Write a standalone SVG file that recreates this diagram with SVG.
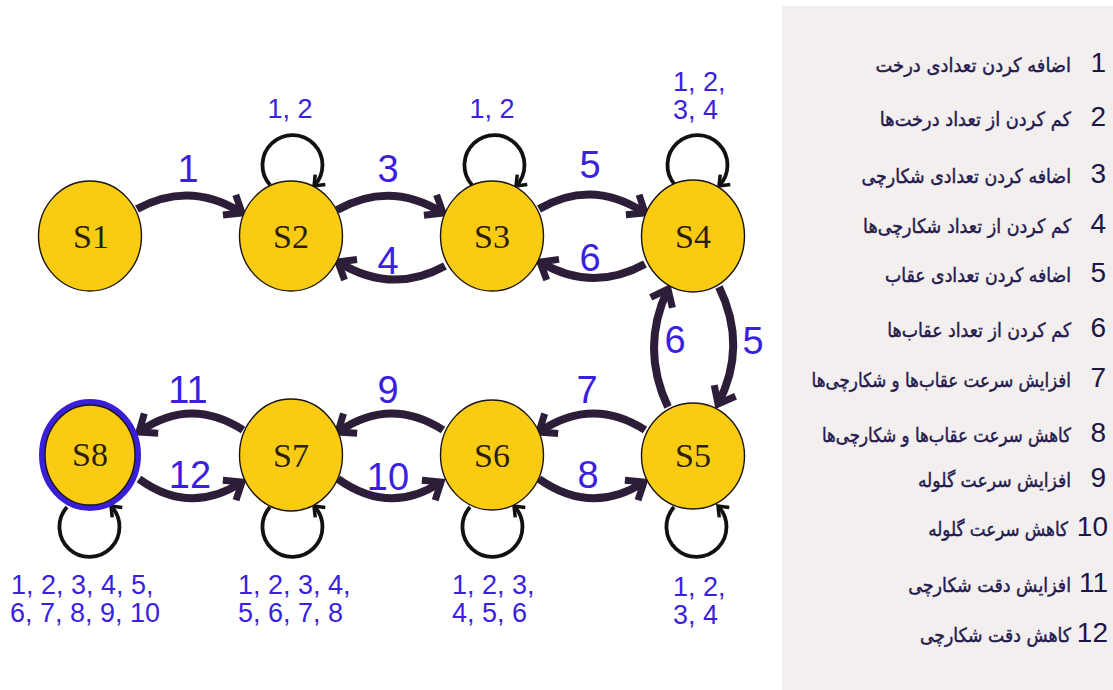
<svg xmlns="http://www.w3.org/2000/svg" width="1113" height="690" viewBox="0 0 1113 690">
<style>
.node{fill:#F9CB12;stroke:#1a1410;stroke-width:1.4}
.nl{font-family:'Liberation Serif',serif;font-size:34px;fill:#2a1f0f;text-anchor:middle}
.edge{fill:none;stroke:#2c1e38;stroke-width:8;marker-end:url(#ah)}
.loop{fill:none;stroke:#111;stroke-width:3.8;marker-end:url(#lh)}
.el{font-family:'Liberation Sans',Arial,sans-serif;font-size:38px;fill:#3b1fe0;text-anchor:middle}
.ll{font-family:'Liberation Sans',Arial,sans-serif;font-size:27px;fill:#3b1fe0}
.num{font-family:'Liberation Sans',Arial,sans-serif;font-size:28px;fill:#1c1548;text-anchor:end}
.fa{font-family:'DejaVu Sans',sans-serif;font-size:19.5px;fill:#231a4d;stroke:#231a4d;stroke-width:0.45;direction:rtl;text-anchor:start}
</style>
<defs>
<marker id="ah" markerUnits="userSpaceOnUse" orient="auto" refX="0" refY="0" markerWidth="40" markerHeight="40" viewBox="-30 -20 40 40" overflow="visible">
<path d="M -15 -12 L 0 0 L -15 12" fill="none" stroke="#2c1e38" stroke-width="7"/>
</marker>
<marker id="lh" markerUnits="userSpaceOnUse" orient="auto" refX="0" refY="0" markerWidth="30" markerHeight="30" viewBox="-20 -15 30 30" overflow="visible">
<path d="M -9 -7 L 0 0 L -9 7" fill="none" stroke="#111" stroke-width="3.5"/>
</marker>
</defs>
<rect x="0" y="0" width="1113" height="690" fill="#ffffff"/>
<rect x="782" y="6" width="331" height="684" fill="#F3EFEE"/>

<g id="connectors">
<path class="edge" d="M 137 209 Q 190 180 242 213"/>
<path class="edge" d="M 337 210 Q 390 180 443 213"/>
<path class="edge" d="M 539 209 Q 592 178 645 213"/>
<path class="edge" d="M 445 266 Q 392 295 338 262"/>
<path class="edge" d="M 645 264 Q 592 293 540 262"/>
<path class="edge" d="M 668 407 Q 640 348 668 289"/>
<path class="edge" d="M 719 287 Q 748 346 718 404"/>
<path class="edge" d="M 645 430 Q 592 396 539 432"/>
<path class="edge" d="M 539 479 Q 592 516 644 482"/>
<path class="edge" d="M 443 430 Q 390 396 338 432"/>
<path class="edge" d="M 338 479 Q 390 516 441 482"/>
<path class="edge" d="M 243 430 Q 190 396 139 432"/>
<path class="edge" d="M 139 479 Q 190 516 242 482"/>
<path class="loop" d="M 270 185 A 30 30 0 1 1 314 186"/>
<path class="loop" d="M 472 185 A 30 30 0 1 1 516 186"/>
<path class="loop" d="M 675 185 A 30 30 0 1 1 719 186"/>
<path class="loop" d="M 674 507 A 30 30 0 1 0 718 506"/>
<path class="loop" d="M 470 507 A 30 30 0 1 0 514 506"/>
<path class="loop" d="M 270 507 A 30 30 0 1 0 314 506"/>
<path class="loop" d="M 67 507 A 30 30 0 1 0 111 506"/>
<text class="el" x="188" y="182">1</text>
<text class="el" x="388" y="182">3</text>
<text class="el" x="590" y="178">5</text>
<text class="el" x="388" y="274">4</text>
<text class="el" x="590" y="271">6</text>
<text class="el" x="675" y="353">6</text>
<text class="el" x="753" y="354">5</text>
<text class="el" x="587" y="403">7</text>
<text class="el" x="388" y="403">9</text>
<text class="el" x="188" y="403">11</text>
<text class="el" x="588" y="488">8</text>
<text class="el" x="388" y="490">10</text>
<text class="el" x="190" y="488">12</text>
<text class="ll" x="290" y="118" text-anchor="middle">1, 2</text>
<text class="ll" x="492" y="118" text-anchor="middle">1, 2</text>
<text class="ll" x="673" y="91">1, 2,</text>
<text class="ll" x="673" y="119">3, 4</text>
<text class="ll" x="673" y="596">1, 2,</text>
<text class="ll" x="673" y="624">3, 4</text>
<text class="ll" x="452" y="594">1, 2, 3,</text>
<text class="ll" x="452" y="622">4, 5, 6</text>
<text class="ll" x="238" y="594">1, 2, 3, 4,</text>
<text class="ll" x="238" y="622">5, 6, 7, 8</text>
<text class="ll" x="11" y="594">1, 2, 3, 4, 5,</text>
<text class="ll" x="10" y="622">6, 7, 8, 9, 10</text>
</g>

<g id="S1"><ellipse class="node" cx="90" cy="236" rx="51.5" ry="55"/><text class="nl" x="91" y="248">S1</text></g>
<g id="S2"><ellipse class="node" cx="291" cy="236" rx="51.5" ry="55"/><text class="nl" x="291" y="248">S2</text></g>
<g id="S3"><ellipse class="node" cx="492" cy="236" rx="51.5" ry="55"/><text class="nl" x="492" y="248">S3</text></g>
<g id="S4"><ellipse class="node" cx="693" cy="236" rx="51.5" ry="56"/><text class="nl" x="693" y="248">S4</text></g>
<g id="S5"><ellipse class="node" cx="693" cy="456" rx="51.5" ry="53"/><text class="nl" x="693" y="467">S5</text></g>
<g id="S6"><ellipse class="node" cx="492" cy="455" rx="51.5" ry="55"/><text class="nl" x="492" y="467">S6</text></g>
<g id="S7"><ellipse class="node" cx="291" cy="455" rx="51.5" ry="56"/><text class="nl" x="291" y="467">S7</text></g>
<g id="S8"><ellipse cx="90" cy="455" rx="48" ry="53" fill="#F9CB12" stroke="#3a1fd8" stroke-width="6"/><ellipse cx="90" cy="455" rx="45" ry="50" fill="none" stroke="#1a1410" stroke-width="1.4"/><text class="nl" x="90" y="466">S8</text></g>

<g id="legend">
<text class="num" x="1106" y="72">1</text><text class="fa" transform="translate(1071,72) scale(0.918,1)">اضافه کردن تعدادی درخت</text>
<text class="num" x="1106" y="126">2</text><text class="fa" transform="translate(1071,126) scale(0.912,1)">کم کردن از تعداد درخت‌ها</text>
<text class="num" x="1106" y="183">3</text><text class="fa" transform="translate(1071,183) scale(0.894,1)">اضافه کردن تعدادی شکارچی</text>
<text class="num" x="1106" y="233">4</text><text class="fa" transform="translate(1071,233) scale(0.9,1)">کم کردن از تعداد شکارچی‌ها</text>
<text class="num" x="1106" y="282">5</text><text class="fa" transform="translate(1071,282) scale(0.888,1)">اضافه کردن تعدادی عقاب</text>
<text class="num" x="1106" y="337">6</text><text class="fa" transform="translate(1071,337) scale(0.892,1)">کم کردن از تعداد عقاب‌ها</text>
<text class="num" x="1106" y="387">7</text><text class="fa" transform="translate(1071,387) scale(0.859,1)">افزایش سرعت عقاب‌ها و شکارچی‌ها</text>
<text class="num" x="1106" y="442">8</text><text class="fa" transform="translate(1071,442) scale(0.855,1)">کاهش سرعت عقاب‌ها و شکارچی‌ها</text>
<text class="num" x="1106" y="487">9</text><text class="fa" transform="translate(1071,487) scale(0.882,1)">افزایش سرعت گلوله</text>
<text class="num" x="1108" y="536">10</text><text class="fa" transform="translate(1068,536) scale(0.859,1)">کاهش سرعت گلوله</text>
<text class="num" x="1108" y="592">11</text><text class="fa" transform="translate(1071,592) scale(0.897,1)">افزایش دقت شکارچی</text>
<text class="num" x="1108" y="642">12</text><text class="fa" transform="translate(1071,642) scale(0.886,1)">کاهش دقت شکارچی</text>
</g>
</svg>
